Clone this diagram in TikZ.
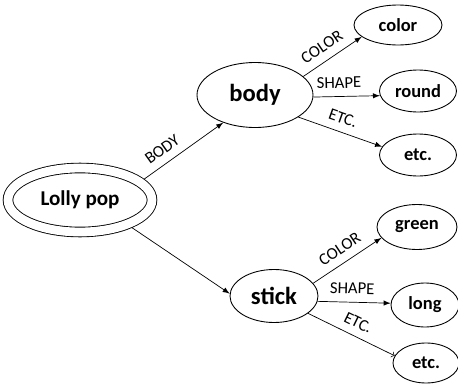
\documentclass[tikz,border=0pt]{standalone}
\usepackage{fontspec}
\setmainfont{Carlito}
\usetikzlibrary{shapes.geometric}

\begin{document}
\begin{tikzpicture}[x=0.02cm, y=-0.02cm]
    \tikzset{part node/.style={ellipse, draw, semithin, inner sep=0pt,
            font=\bfseries\fontsize{14}{16}\selectfont},
        value node/.style={part node, font=\bfseries\fontsize{10.5}{12}\selectfont},
        link label/.style={font=\fontsize{9.5}{11}\selectfont, sloped, above=3pt,
            inner sep=1.5pt},
        semithin/.style={line width=0.5pt}}
    \useasboundingbox (0,0) rectangle (458,386);
    % root and the two parts
    \node[part node, double, double distance=5pt, outer sep=3pt,
        minimum width=2.88cm, minimum height=1.28cm,
        font=\bfseries\fontsize{12}{14}\selectfont] (lolly) at (80,200) {Lolly pop};
    \node[part node, minimum width=2.32cm, minimum height=1.3cm] (body) at (255,95) {body};
    \node[part node, minimum width=1.76cm, minimum height=1.06cm] (stick) at (274,296) {stick};
    % values
    \node[value node, minimum width=1.76cm, minimum height=0.8cm] (bcolor) at (398,25) {color};
    \node[value node, minimum width=1.54cm, minimum height=0.84cm] (bshape) at (418,91) {round};
    \node[value node, minimum width=1.54cm, minimum height=0.84cm] (betc) at (418,155) {etc.};
    \node[value node, minimum width=1.6cm, minimum height=0.9cm] (scolor) at (417,227) {green};
    \node[value node, minimum width=1.36cm, minimum height=0.88cm] (sshape) at (425,305) {long};
    \node[value node, minimum width=1.32cm, minimum height=0.8cm] (setc) at (426,363) {etc.};
    % links
    \draw[-latex] (lolly.18) -- node[link label, pos=0.33] {BODY} (body.221);
    \draw[-latex] (lolly.-28) -- (stick.177);
    \draw[-latex] (body.21) -- node[link label, pos=0.45] {COLOR} (bcolor.198);
    \draw[-latex] (body.-2) -- node[link label, pos=0.39] {SHAPE} (bshape.187);
    \draw[-latex] (body.-27) -- node[link label, pos=0.48] {ETC.} (betc.167);
    \draw[-latex] (stick.18) -- node[link label, pos=0.5] {COLOR} (scolor.197);
    \draw[-latex] (stick.-7) -- node[link label, pos=0.47] {SHAPE} (sshape.177);
    \draw[->] (stick.-27) -- node[link label, pos=0.51] {ETC.} (setc.167);
\end{tikzpicture}
\end{document}
